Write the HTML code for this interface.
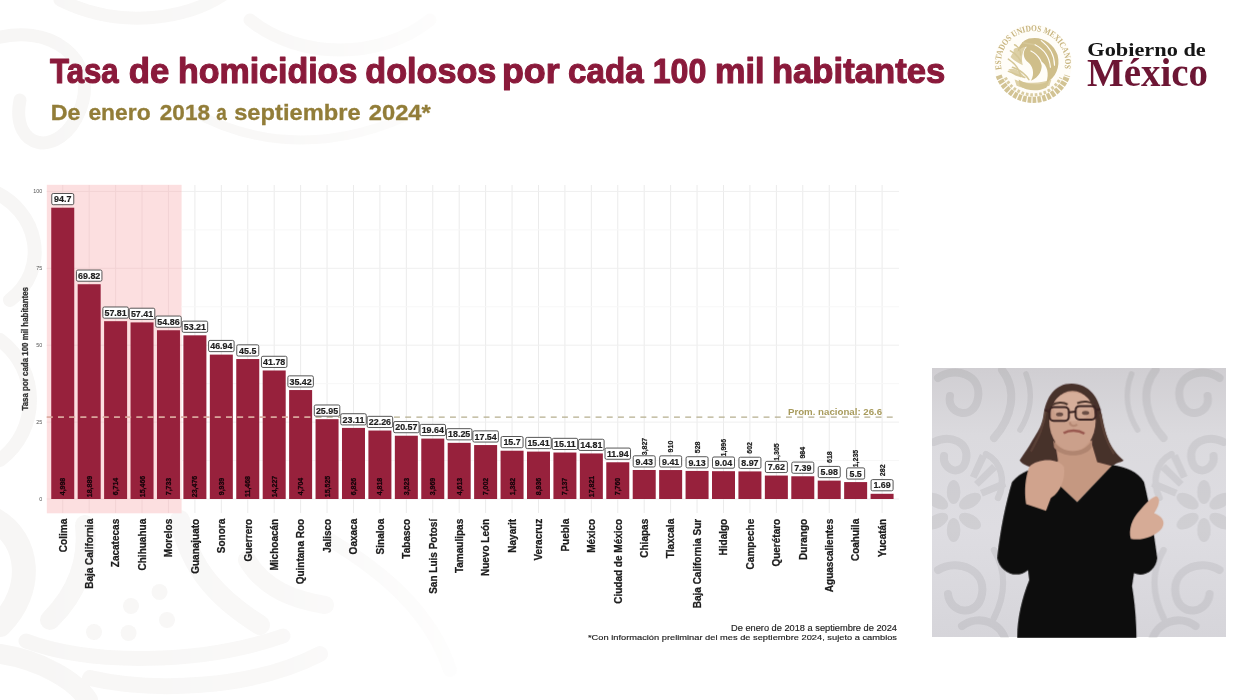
<!DOCTYPE html>
<html lang="es"><head><meta charset="utf-8"><title>Tasa de homicidios dolosos</title>
<style>
html,body{margin:0;padding:0;background:#fff;}
body{width:1246px;height:700px;overflow:hidden;position:relative;font-family:"Liberation Sans",sans-serif;}
svg{position:absolute;left:0;top:0;display:block}
text{font-family:"Liberation Sans",sans-serif}
.serif{font-family:"Liberation Serif",serif}
</style></head><body>
<svg width="1246" height="700" viewBox="0 0 1246 700">
<rect width="1246" height="700" fill="#ffffff"/>

<defs><linearGradient id="fadeg" x1="0" x2="1" y1="0" y2="0"><stop offset="0" stop-color="#fff" stop-opacity="1"/><stop offset="0.55" stop-color="#fff" stop-opacity="0.75"/><stop offset="1" stop-color="#fff" stop-opacity="0"/></linearGradient>
<mask id="fadem"><rect x="0" y="0" width="520" height="700" fill="url(#fadeg)"/></mask></defs>
<g id="bgpattern" mask="url(#fadem)" fill="none" stroke="#f7f6f5" stroke-width="18" stroke-linecap="round">
<path d="M-10 40 C 50 20, 100 60, 80 110 S 10 150, 20 100" stroke-width="13"/>
<path d="M60 0 C 120 30, 190 20, 230 -10" stroke-width="13"/>
<path d="M250 20 C 300 60, 380 60, 430 20" stroke-width="13"/>
<path d="M-10 190 C 40 210, 50 270, 10 300" stroke-width="14"/>
<path d="M0 340 C 40 370, 40 430, 0 460" stroke-width="14"/>
<path d="M190 110 C 260 150, 340 150, 420 110" stroke-width="9"/>
<path d="M-5 520 C 30 540, 35 590, 0 625" stroke-width="24"/>
<path d="M85 525 C 90 570, 70 600, 50 620" stroke-width="20"/>
<path d="M26 641 C 90 665, 200 665, 283 636" stroke-width="15"/>
<path d="M0 654 C 40 660, 75 680, 88 700" stroke-width="20"/>
<path d="M180 520 C 190 570, 220 600, 260 625" stroke-width="20"/>
<path d="M247 560 C 265 590, 295 600, 325 605" stroke-width="18"/>
<path d="M90 678 C 150 692, 250 690, 320 654" stroke-width="16"/>
<path d="M330 540 C 380 570, 430 610, 450 670" stroke-width="14"/>
<g fill="#f7f6f5" stroke="none"><circle cx="159.5" cy="592" r="8"/><circle cx="131" cy="606" r="8"/><circle cx="167" cy="620" r="8"/><circle cx="94" cy="632" r="8"/><circle cx="128.6" cy="633" r="8"/></g>
</g>
<text id="title" y="82.6" font-size="35" font-weight="700" fill="#8a1a3b" stroke="#8a1a3b" stroke-width="1.1" stroke-linejoin="round"><tspan x="49.90" textLength="68.85" lengthAdjust="spacingAndGlyphs">Tasa</tspan> <tspan x="128.70" textLength="40.53" lengthAdjust="spacingAndGlyphs">de</tspan> <tspan x="177.90" textLength="179.40" lengthAdjust="spacingAndGlyphs">homicidios</tspan> <tspan x="365.30" textLength="130.98" lengthAdjust="spacingAndGlyphs">dolosos</tspan> <tspan x="501.90" textLength="57.76" lengthAdjust="spacingAndGlyphs">por</tspan> <tspan x="568.10" textLength="75.60" lengthAdjust="spacingAndGlyphs">cada</tspan> <tspan x="652.70" textLength="53.57" lengthAdjust="spacingAndGlyphs">100</tspan> <tspan x="715.10" textLength="49.44" lengthAdjust="spacingAndGlyphs">mil</tspan> <tspan x="771.90" textLength="173.39" lengthAdjust="spacingAndGlyphs">habitantes</tspan></text>
<text id="subtitle" y="119.8" font-size="22.2" font-weight="700" fill="#927d38" stroke="#927d38" stroke-width="0.3"><tspan x="50.80" textLength="29.76" lengthAdjust="spacingAndGlyphs">De</tspan> <tspan x="88.40" textLength="62.19" lengthAdjust="spacingAndGlyphs">enero</tspan> <tspan x="159.80" textLength="50.16" lengthAdjust="spacingAndGlyphs">2018</tspan> <tspan x="216.20" textLength="10.53" lengthAdjust="spacingAndGlyphs">a</tspan> <tspan x="234.20" textLength="126.38" lengthAdjust="spacingAndGlyphs">septiembre</tspan> <tspan x="368.80" textLength="62.01" lengthAdjust="spacingAndGlyphs">2024*</tspan></text>
<rect x="46.8" y="184.8" width="134.8" height="328.5" fill="#fcdfe0"/>
<g stroke="#ebebeb" stroke-width="1">
<line x1="62.75" y1="185" x2="62.75" y2="513" stroke="#f2d3d4"/>
<line x1="89.18" y1="185" x2="89.18" y2="513" stroke="#f2d3d4"/>
<line x1="115.61" y1="185" x2="115.61" y2="513" stroke="#f2d3d4"/>
<line x1="142.04" y1="185" x2="142.04" y2="513" stroke="#f2d3d4"/>
<line x1="168.47" y1="185" x2="168.47" y2="513" stroke="#f2d3d4"/>
<line x1="194.90" y1="185" x2="194.90" y2="513"/>
<line x1="221.33" y1="185" x2="221.33" y2="513"/>
<line x1="247.76" y1="185" x2="247.76" y2="513"/>
<line x1="274.19" y1="185" x2="274.19" y2="513"/>
<line x1="300.62" y1="185" x2="300.62" y2="513"/>
<line x1="327.05" y1="185" x2="327.05" y2="513"/>
<line x1="353.48" y1="185" x2="353.48" y2="513"/>
<line x1="379.91" y1="185" x2="379.91" y2="513"/>
<line x1="406.34" y1="185" x2="406.34" y2="513"/>
<line x1="432.77" y1="185" x2="432.77" y2="513"/>
<line x1="459.20" y1="185" x2="459.20" y2="513"/>
<line x1="485.63" y1="185" x2="485.63" y2="513"/>
<line x1="512.06" y1="185" x2="512.06" y2="513"/>
<line x1="538.49" y1="185" x2="538.49" y2="513"/>
<line x1="564.92" y1="185" x2="564.92" y2="513"/>
<line x1="591.35" y1="185" x2="591.35" y2="513"/>
<line x1="617.78" y1="185" x2="617.78" y2="513"/>
<line x1="644.21" y1="185" x2="644.21" y2="513"/>
<line x1="670.64" y1="185" x2="670.64" y2="513"/>
<line x1="697.07" y1="185" x2="697.07" y2="513"/>
<line x1="723.50" y1="185" x2="723.50" y2="513"/>
<line x1="749.93" y1="185" x2="749.93" y2="513"/>
<line x1="776.36" y1="185" x2="776.36" y2="513"/>
<line x1="802.79" y1="185" x2="802.79" y2="513"/>
<line x1="829.22" y1="185" x2="829.22" y2="513"/>
<line x1="855.65" y1="185" x2="855.65" y2="513"/>
<line x1="882.08" y1="185" x2="882.08" y2="513"/>
<line x1="181.6" y1="499.00" x2="899" y2="499.00" stroke="#efefef"/>
<line x1="46.8" y1="499.00" x2="181.6" y2="499.00" stroke="#f2d3d4"/>
<line x1="181.6" y1="422.10" x2="899" y2="422.10" stroke="#efefef"/>
<line x1="46.8" y1="422.10" x2="181.6" y2="422.10" stroke="#f2d3d4"/>
<line x1="181.6" y1="345.20" x2="899" y2="345.20" stroke="#efefef"/>
<line x1="46.8" y1="345.20" x2="181.6" y2="345.20" stroke="#f2d3d4"/>
<line x1="181.6" y1="268.30" x2="899" y2="268.30" stroke="#efefef"/>
<line x1="46.8" y1="268.30" x2="181.6" y2="268.30" stroke="#f2d3d4"/>
<line x1="181.6" y1="191.40" x2="899" y2="191.40" stroke="#efefef"/>
<line x1="46.8" y1="191.40" x2="181.6" y2="191.40" stroke="#f2d3d4"/>
<line x1="181.6" y1="460.55" x2="899" y2="460.55" stroke="#f7f7f7"/>
<line x1="181.6" y1="383.65" x2="899" y2="383.65" stroke="#f7f7f7"/>
<line x1="181.6" y1="306.75" x2="899" y2="306.75" stroke="#f7f7f7"/>
<line x1="181.6" y1="229.85" x2="899" y2="229.85" stroke="#f7f7f7"/>
</g>
<g font-size="5.4" fill="#555" text-anchor="end">
<text x="42.3" y="500.90">0</text>
<text x="42.3" y="424.00">25</text>
<text x="42.3" y="347.10">50</text>
<text x="42.3" y="270.20">75</text>
<text x="42.3" y="193.30">100</text>
</g>
<text transform="translate(27.7,348.8) rotate(-90)" font-size="8.8" font-weight="700" fill="#333" stroke="#333" stroke-width="0.3" text-anchor="middle" textLength="123.5" lengthAdjust="spacingAndGlyphs">Tasa por cada 100 mil habitantes</text>
<g fill="#97213c">
<rect x="51.25" y="207.70" width="23.0" height="291.30"/>
<rect x="77.68" y="284.23" width="23.0" height="214.77"/>
<rect x="104.11" y="321.18" width="23.0" height="177.82"/>
<rect x="130.54" y="322.41" width="23.0" height="176.59"/>
<rect x="156.97" y="330.25" width="23.0" height="168.75"/>
<rect x="183.40" y="335.33" width="23.0" height="163.67"/>
<rect x="209.83" y="354.61" width="23.0" height="144.39"/>
<rect x="236.26" y="359.04" width="23.0" height="139.96"/>
<rect x="262.69" y="370.48" width="23.0" height="128.52"/>
<rect x="289.12" y="390.05" width="23.0" height="108.95"/>
<rect x="315.55" y="419.18" width="23.0" height="79.82"/>
<rect x="341.98" y="427.91" width="23.0" height="71.09"/>
<rect x="368.41" y="430.53" width="23.0" height="68.47"/>
<rect x="394.84" y="435.73" width="23.0" height="63.27"/>
<rect x="421.27" y="438.59" width="23.0" height="60.41"/>
<rect x="447.70" y="442.86" width="23.0" height="56.14"/>
<rect x="474.13" y="445.05" width="23.0" height="53.95"/>
<rect x="500.56" y="450.71" width="23.0" height="48.29"/>
<rect x="526.99" y="451.60" width="23.0" height="47.40"/>
<rect x="553.42" y="452.52" width="23.0" height="46.48"/>
<rect x="579.85" y="453.44" width="23.0" height="45.56"/>
<rect x="606.28" y="462.27" width="23.0" height="36.73"/>
<rect x="632.71" y="469.99" width="23.0" height="29.01"/>
<rect x="659.14" y="470.05" width="23.0" height="28.95"/>
<rect x="685.57" y="470.92" width="23.0" height="28.08"/>
<rect x="712.00" y="471.19" width="23.0" height="27.81"/>
<rect x="738.43" y="471.41" width="23.0" height="27.59"/>
<rect x="764.86" y="475.56" width="23.0" height="23.44"/>
<rect x="791.29" y="476.27" width="23.0" height="22.73"/>
<rect x="817.72" y="480.61" width="23.0" height="18.39"/>
<rect x="844.15" y="482.08" width="23.0" height="16.92"/>
<rect x="870.58" y="493.80" width="23.0" height="5.20"/>
</g>
<line x1="46.8" y1="417.18" x2="898" y2="417.18" stroke="#b5ae8e" stroke-width="1.3" stroke-dasharray="5.9 5.3"/>
<line x1="46.8" y1="417.18" x2="315" y2="417.18" stroke="#e9a9a6" stroke-width="1.3" stroke-dasharray="5.9 5.3"/>
<text x="882.2" y="414.6" font-size="9.7" font-weight="700" fill="#a89b5c" text-anchor="end">Prom. nacional: 26.6</text>
<rect x="51.75" y="193.50" width="22" height="11.2" rx="1.5" fill="#fff" stroke="#444" stroke-width="0.9"/>
<text x="62.75" y="202.30" font-size="8.9" font-weight="700" fill="#1e1e1e" stroke="#1e1e1e" stroke-width="0.2" text-anchor="middle">94.7</text>
<text transform="translate(65.25,486.5) rotate(-90)" font-size="7" font-weight="700" fill="#16040a" stroke="#16040a" stroke-width="0.25" text-anchor="middle">4,998</text>
<rect x="76.43" y="270.03" width="25.5" height="11.2" rx="1.5" fill="#fff" stroke="#444" stroke-width="0.9"/>
<text x="89.18" y="278.83" font-size="8.9" font-weight="700" fill="#1e1e1e" stroke="#1e1e1e" stroke-width="0.2" text-anchor="middle">69.82</text>
<text transform="translate(91.68,486.5) rotate(-90)" font-size="7" font-weight="700" fill="#16040a" stroke="#16040a" stroke-width="0.25" text-anchor="middle">18,889</text>
<rect x="102.86" y="306.98" width="25.5" height="11.2" rx="1.5" fill="#fff" stroke="#444" stroke-width="0.9"/>
<text x="115.61" y="315.78" font-size="8.9" font-weight="700" fill="#1e1e1e" stroke="#1e1e1e" stroke-width="0.2" text-anchor="middle">57.81</text>
<text transform="translate(118.11,486.5) rotate(-90)" font-size="7" font-weight="700" fill="#16040a" stroke="#16040a" stroke-width="0.25" text-anchor="middle">6,714</text>
<rect x="129.29" y="308.21" width="25.5" height="11.2" rx="1.5" fill="#fff" stroke="#444" stroke-width="0.9"/>
<text x="142.04" y="317.01" font-size="8.9" font-weight="700" fill="#1e1e1e" stroke="#1e1e1e" stroke-width="0.2" text-anchor="middle">57.41</text>
<text transform="translate(144.54,486.5) rotate(-90)" font-size="7" font-weight="700" fill="#16040a" stroke="#16040a" stroke-width="0.25" text-anchor="middle">15,466</text>
<rect x="155.72" y="316.05" width="25.5" height="11.2" rx="1.5" fill="#fff" stroke="#444" stroke-width="0.9"/>
<text x="168.47" y="324.85" font-size="8.9" font-weight="700" fill="#1e1e1e" stroke="#1e1e1e" stroke-width="0.2" text-anchor="middle">54.86</text>
<text transform="translate(170.97,486.5) rotate(-90)" font-size="7" font-weight="700" fill="#16040a" stroke="#16040a" stroke-width="0.25" text-anchor="middle">7,733</text>
<rect x="182.15" y="321.13" width="25.5" height="11.2" rx="1.5" fill="#fff" stroke="#444" stroke-width="0.9"/>
<text x="194.90" y="329.93" font-size="8.9" font-weight="700" fill="#1e1e1e" stroke="#1e1e1e" stroke-width="0.2" text-anchor="middle">53.21</text>
<text transform="translate(197.40,486.5) rotate(-90)" font-size="7" font-weight="700" fill="#16040a" stroke="#16040a" stroke-width="0.25" text-anchor="middle">23,476</text>
<rect x="208.58" y="340.41" width="25.5" height="11.2" rx="1.5" fill="#fff" stroke="#444" stroke-width="0.9"/>
<text x="221.33" y="349.21" font-size="8.9" font-weight="700" fill="#1e1e1e" stroke="#1e1e1e" stroke-width="0.2" text-anchor="middle">46.94</text>
<text transform="translate(223.83,486.5) rotate(-90)" font-size="7" font-weight="700" fill="#16040a" stroke="#16040a" stroke-width="0.25" text-anchor="middle">9,939</text>
<rect x="236.76" y="344.84" width="22" height="11.2" rx="1.5" fill="#fff" stroke="#444" stroke-width="0.9"/>
<text x="247.76" y="353.64" font-size="8.9" font-weight="700" fill="#1e1e1e" stroke="#1e1e1e" stroke-width="0.2" text-anchor="middle">45.5</text>
<text transform="translate(250.26,486.5) rotate(-90)" font-size="7" font-weight="700" fill="#16040a" stroke="#16040a" stroke-width="0.25" text-anchor="middle">11,468</text>
<rect x="261.44" y="356.28" width="25.5" height="11.2" rx="1.5" fill="#fff" stroke="#444" stroke-width="0.9"/>
<text x="274.19" y="365.08" font-size="8.9" font-weight="700" fill="#1e1e1e" stroke="#1e1e1e" stroke-width="0.2" text-anchor="middle">41.78</text>
<text transform="translate(276.69,486.5) rotate(-90)" font-size="7" font-weight="700" fill="#16040a" stroke="#16040a" stroke-width="0.25" text-anchor="middle">14,227</text>
<rect x="287.87" y="375.85" width="25.5" height="11.2" rx="1.5" fill="#fff" stroke="#444" stroke-width="0.9"/>
<text x="300.62" y="384.65" font-size="8.9" font-weight="700" fill="#1e1e1e" stroke="#1e1e1e" stroke-width="0.2" text-anchor="middle">35.42</text>
<text transform="translate(303.12,486.5) rotate(-90)" font-size="7" font-weight="700" fill="#16040a" stroke="#16040a" stroke-width="0.25" text-anchor="middle">4,704</text>
<rect x="314.30" y="404.98" width="25.5" height="11.2" rx="1.5" fill="#fff" stroke="#444" stroke-width="0.9"/>
<text x="327.05" y="413.78" font-size="8.9" font-weight="700" fill="#1e1e1e" stroke="#1e1e1e" stroke-width="0.2" text-anchor="middle">25.95</text>
<text transform="translate(329.55,486.5) rotate(-90)" font-size="7" font-weight="700" fill="#16040a" stroke="#16040a" stroke-width="0.25" text-anchor="middle">15,525</text>
<rect x="340.73" y="413.71" width="25.5" height="11.2" rx="1.5" fill="#fff" stroke="#444" stroke-width="0.9"/>
<text x="353.48" y="422.51" font-size="8.9" font-weight="700" fill="#1e1e1e" stroke="#1e1e1e" stroke-width="0.2" text-anchor="middle">23.11</text>
<text transform="translate(355.98,486.5) rotate(-90)" font-size="7" font-weight="700" fill="#16040a" stroke="#16040a" stroke-width="0.25" text-anchor="middle">6,826</text>
<rect x="367.16" y="416.33" width="25.5" height="11.2" rx="1.5" fill="#fff" stroke="#444" stroke-width="0.9"/>
<text x="379.91" y="425.13" font-size="8.9" font-weight="700" fill="#1e1e1e" stroke="#1e1e1e" stroke-width="0.2" text-anchor="middle">22.26</text>
<text transform="translate(382.41,486.5) rotate(-90)" font-size="7" font-weight="700" fill="#16040a" stroke="#16040a" stroke-width="0.25" text-anchor="middle">4,818</text>
<rect x="393.59" y="421.53" width="25.5" height="11.2" rx="1.5" fill="#fff" stroke="#444" stroke-width="0.9"/>
<text x="406.34" y="430.33" font-size="8.9" font-weight="700" fill="#1e1e1e" stroke="#1e1e1e" stroke-width="0.2" text-anchor="middle">20.57</text>
<text transform="translate(408.84,486.5) rotate(-90)" font-size="7" font-weight="700" fill="#16040a" stroke="#16040a" stroke-width="0.25" text-anchor="middle">3,523</text>
<rect x="420.02" y="424.39" width="25.5" height="11.2" rx="1.5" fill="#fff" stroke="#444" stroke-width="0.9"/>
<text x="432.77" y="433.19" font-size="8.9" font-weight="700" fill="#1e1e1e" stroke="#1e1e1e" stroke-width="0.2" text-anchor="middle">19.64</text>
<text transform="translate(435.27,486.5) rotate(-90)" font-size="7" font-weight="700" fill="#16040a" stroke="#16040a" stroke-width="0.25" text-anchor="middle">3,969</text>
<rect x="446.45" y="428.66" width="25.5" height="11.2" rx="1.5" fill="#fff" stroke="#444" stroke-width="0.9"/>
<text x="459.20" y="437.46" font-size="8.9" font-weight="700" fill="#1e1e1e" stroke="#1e1e1e" stroke-width="0.2" text-anchor="middle">18.25</text>
<text transform="translate(461.70,486.5) rotate(-90)" font-size="7" font-weight="700" fill="#16040a" stroke="#16040a" stroke-width="0.25" text-anchor="middle">4,613</text>
<rect x="472.88" y="430.85" width="25.5" height="11.2" rx="1.5" fill="#fff" stroke="#444" stroke-width="0.9"/>
<text x="485.63" y="439.65" font-size="8.9" font-weight="700" fill="#1e1e1e" stroke="#1e1e1e" stroke-width="0.2" text-anchor="middle">17.54</text>
<text transform="translate(488.13,486.5) rotate(-90)" font-size="7" font-weight="700" fill="#16040a" stroke="#16040a" stroke-width="0.25" text-anchor="middle">7,002</text>
<rect x="501.06" y="436.51" width="22" height="11.2" rx="1.5" fill="#fff" stroke="#444" stroke-width="0.9"/>
<text x="512.06" y="445.31" font-size="8.9" font-weight="700" fill="#1e1e1e" stroke="#1e1e1e" stroke-width="0.2" text-anchor="middle">15.7</text>
<text transform="translate(514.56,486.5) rotate(-90)" font-size="7" font-weight="700" fill="#16040a" stroke="#16040a" stroke-width="0.25" text-anchor="middle">1,382</text>
<rect x="525.74" y="437.40" width="25.5" height="11.2" rx="1.5" fill="#fff" stroke="#444" stroke-width="0.9"/>
<text x="538.49" y="446.20" font-size="8.9" font-weight="700" fill="#1e1e1e" stroke="#1e1e1e" stroke-width="0.2" text-anchor="middle">15.41</text>
<text transform="translate(540.99,486.5) rotate(-90)" font-size="7" font-weight="700" fill="#16040a" stroke="#16040a" stroke-width="0.25" text-anchor="middle">8,936</text>
<rect x="552.17" y="438.32" width="25.5" height="11.2" rx="1.5" fill="#fff" stroke="#444" stroke-width="0.9"/>
<text x="564.92" y="447.12" font-size="8.9" font-weight="700" fill="#1e1e1e" stroke="#1e1e1e" stroke-width="0.2" text-anchor="middle">15.11</text>
<text transform="translate(567.42,486.5) rotate(-90)" font-size="7" font-weight="700" fill="#16040a" stroke="#16040a" stroke-width="0.25" text-anchor="middle">7,137</text>
<rect x="578.60" y="439.24" width="25.5" height="11.2" rx="1.5" fill="#fff" stroke="#444" stroke-width="0.9"/>
<text x="591.35" y="448.04" font-size="8.9" font-weight="700" fill="#1e1e1e" stroke="#1e1e1e" stroke-width="0.2" text-anchor="middle">14.81</text>
<text transform="translate(593.85,486.5) rotate(-90)" font-size="7" font-weight="700" fill="#16040a" stroke="#16040a" stroke-width="0.25" text-anchor="middle">17,821</text>
<rect x="605.03" y="448.07" width="25.5" height="11.2" rx="1.5" fill="#fff" stroke="#444" stroke-width="0.9"/>
<text x="617.78" y="456.87" font-size="8.9" font-weight="700" fill="#1e1e1e" stroke="#1e1e1e" stroke-width="0.2" text-anchor="middle">11.94</text>
<text transform="translate(620.28,486.5) rotate(-90)" font-size="7" font-weight="700" fill="#16040a" stroke="#16040a" stroke-width="0.25" text-anchor="middle">7,760</text>
<rect x="633.21" y="455.79" width="22" height="11.2" rx="1.5" fill="#fff" stroke="#444" stroke-width="0.9"/>
<text x="644.21" y="464.59" font-size="8.9" font-weight="700" fill="#1e1e1e" stroke="#1e1e1e" stroke-width="0.2" text-anchor="middle">9.43</text>
<text transform="translate(646.71,446.49) rotate(-90)" font-size="7" font-weight="700" fill="#1a1a1a" stroke="#1a1a1a" stroke-width="0.2" text-anchor="middle">3,827</text>
<rect x="659.64" y="455.85" width="22" height="11.2" rx="1.5" fill="#fff" stroke="#444" stroke-width="0.9"/>
<text x="670.64" y="464.65" font-size="8.9" font-weight="700" fill="#1e1e1e" stroke="#1e1e1e" stroke-width="0.2" text-anchor="middle">9.41</text>
<text transform="translate(673.14,446.55) rotate(-90)" font-size="7" font-weight="700" fill="#1a1a1a" stroke="#1a1a1a" stroke-width="0.2" text-anchor="middle">910</text>
<rect x="686.07" y="456.72" width="22" height="11.2" rx="1.5" fill="#fff" stroke="#444" stroke-width="0.9"/>
<text x="697.07" y="465.52" font-size="8.9" font-weight="700" fill="#1e1e1e" stroke="#1e1e1e" stroke-width="0.2" text-anchor="middle">9.13</text>
<text transform="translate(699.57,447.42) rotate(-90)" font-size="7" font-weight="700" fill="#1a1a1a" stroke="#1a1a1a" stroke-width="0.2" text-anchor="middle">528</text>
<rect x="712.50" y="456.99" width="22" height="11.2" rx="1.5" fill="#fff" stroke="#444" stroke-width="0.9"/>
<text x="723.50" y="465.79" font-size="8.9" font-weight="700" fill="#1e1e1e" stroke="#1e1e1e" stroke-width="0.2" text-anchor="middle">9.04</text>
<text transform="translate(726.00,447.69) rotate(-90)" font-size="7" font-weight="700" fill="#1a1a1a" stroke="#1a1a1a" stroke-width="0.2" text-anchor="middle">1,996</text>
<rect x="738.93" y="457.21" width="22" height="11.2" rx="1.5" fill="#fff" stroke="#444" stroke-width="0.9"/>
<text x="749.93" y="466.01" font-size="8.9" font-weight="700" fill="#1e1e1e" stroke="#1e1e1e" stroke-width="0.2" text-anchor="middle">8.97</text>
<text transform="translate(752.43,447.91) rotate(-90)" font-size="7" font-weight="700" fill="#1a1a1a" stroke="#1a1a1a" stroke-width="0.2" text-anchor="middle">602</text>
<rect x="765.36" y="461.36" width="22" height="11.2" rx="1.5" fill="#fff" stroke="#444" stroke-width="0.9"/>
<text x="776.36" y="470.16" font-size="8.9" font-weight="700" fill="#1e1e1e" stroke="#1e1e1e" stroke-width="0.2" text-anchor="middle">7.62</text>
<text transform="translate(778.86,452.06) rotate(-90)" font-size="7" font-weight="700" fill="#1a1a1a" stroke="#1a1a1a" stroke-width="0.2" text-anchor="middle">1,305</text>
<rect x="791.79" y="462.07" width="22" height="11.2" rx="1.5" fill="#fff" stroke="#444" stroke-width="0.9"/>
<text x="802.79" y="470.87" font-size="8.9" font-weight="700" fill="#1e1e1e" stroke="#1e1e1e" stroke-width="0.2" text-anchor="middle">7.39</text>
<text transform="translate(805.29,452.77) rotate(-90)" font-size="7" font-weight="700" fill="#1a1a1a" stroke="#1a1a1a" stroke-width="0.2" text-anchor="middle">984</text>
<rect x="818.22" y="466.41" width="22" height="11.2" rx="1.5" fill="#fff" stroke="#444" stroke-width="0.9"/>
<text x="829.22" y="475.21" font-size="8.9" font-weight="700" fill="#1e1e1e" stroke="#1e1e1e" stroke-width="0.2" text-anchor="middle">5.98</text>
<text transform="translate(831.72,457.11) rotate(-90)" font-size="7" font-weight="700" fill="#1a1a1a" stroke="#1a1a1a" stroke-width="0.2" text-anchor="middle">618</text>
<rect x="846.65" y="467.88" width="18" height="11.2" rx="1.5" fill="#fff" stroke="#444" stroke-width="0.9"/>
<text x="855.65" y="476.68" font-size="8.9" font-weight="700" fill="#1e1e1e" stroke="#1e1e1e" stroke-width="0.2" text-anchor="middle">5.5</text>
<text transform="translate(858.15,458.58) rotate(-90)" font-size="7" font-weight="700" fill="#1a1a1a" stroke="#1a1a1a" stroke-width="0.2" text-anchor="middle">1,235</text>
<rect x="871.08" y="479.60" width="22" height="11.2" rx="1.5" fill="#fff" stroke="#444" stroke-width="0.9"/>
<text x="882.08" y="488.40" font-size="8.9" font-weight="700" fill="#1e1e1e" stroke="#1e1e1e" stroke-width="0.2" text-anchor="middle">1.69</text>
<text transform="translate(884.58,470.30) rotate(-90)" font-size="7" font-weight="700" fill="#1a1a1a" stroke="#1a1a1a" stroke-width="0.2" text-anchor="middle">282</text>
<g font-size="10" font-weight="700" fill="#1c1c1c" stroke="#1c1c1c" stroke-width="0.25" text-anchor="end">
<text transform="translate(66.55,518.8) rotate(-90)">Colima</text>
<text transform="translate(92.98,518.8) rotate(-90)">Baja California</text>
<text transform="translate(119.41,518.8) rotate(-90)">Zacatecas</text>
<text transform="translate(145.84,518.8) rotate(-90)">Chihuahua</text>
<text transform="translate(172.27,518.8) rotate(-90)">Morelos</text>
<text transform="translate(198.70,518.8) rotate(-90)">Guanajuato</text>
<text transform="translate(225.13,518.8) rotate(-90)">Sonora</text>
<text transform="translate(251.56,518.8) rotate(-90)">Guerrero</text>
<text transform="translate(277.99,518.8) rotate(-90)">Michoacán</text>
<text transform="translate(304.42,518.8) rotate(-90)">Quintana Roo</text>
<text transform="translate(330.85,518.8) rotate(-90)">Jalisco</text>
<text transform="translate(357.28,518.8) rotate(-90)">Oaxaca</text>
<text transform="translate(383.71,518.8) rotate(-90)">Sinaloa</text>
<text transform="translate(410.14,518.8) rotate(-90)">Tabasco</text>
<text transform="translate(436.57,518.8) rotate(-90)">San Luis Potosí</text>
<text transform="translate(463.00,518.8) rotate(-90)">Tamaulipas</text>
<text transform="translate(489.43,518.8) rotate(-90)">Nuevo León</text>
<text transform="translate(515.86,518.8) rotate(-90)">Nayarit</text>
<text transform="translate(542.29,518.8) rotate(-90)">Veracruz</text>
<text transform="translate(568.72,518.8) rotate(-90)">Puebla</text>
<text transform="translate(595.15,518.8) rotate(-90)">México</text>
<text transform="translate(621.58,518.8) rotate(-90)">Ciudad de México</text>
<text transform="translate(648.01,518.8) rotate(-90)">Chiapas</text>
<text transform="translate(674.44,518.8) rotate(-90)">Tlaxcala</text>
<text transform="translate(700.87,518.8) rotate(-90)">Baja California Sur</text>
<text transform="translate(727.30,518.8) rotate(-90)">Hidalgo</text>
<text transform="translate(753.73,518.8) rotate(-90)">Campeche</text>
<text transform="translate(780.16,518.8) rotate(-90)">Querétaro</text>
<text transform="translate(806.59,518.8) rotate(-90)">Durango</text>
<text transform="translate(833.02,518.8) rotate(-90)">Aguascalientes</text>
<text transform="translate(859.45,518.8) rotate(-90)">Coahuila</text>
<text transform="translate(885.88,518.8) rotate(-90)">Yucatán</text>
</g>
<text x="897" y="631.2" font-size="8.5" fill="#1c1c1c" stroke="#1c1c1c" stroke-width="0.15" text-anchor="end" textLength="166" lengthAdjust="spacingAndGlyphs">De enero de 2018 a septiembre de 2024</text>
<text x="897" y="640" font-size="8" fill="#1c1c1c" stroke="#1c1c1c" stroke-width="0.15" text-anchor="end" textLength="309" lengthAdjust="spacingAndGlyphs">*Con información preliminar del mes de septiembre 2024, sujeto a cambios</text>
<g id="logo">
<g transform="translate(1033,63.2) scale(1.025)">
<circle r="38" fill="#fffdf8"/>
<path id="sealarc" d="M-30.72 5.97 A 31.3 31.3 0 1 1 30.72 5.97" fill="none"/>
<text class="serif" font-size="8.6" font-weight="700" fill="#c7b47e" textLength="109.4" lengthAdjust="spacingAndGlyphs"><textPath href="#sealarc" startOffset="0">ESTADOS UNIDOS MEXICANOS</textPath></text>
<!-- wreath -->
<path d="M-33.5 12 A 35.5 35.5 0 0 0 33.5 12" fill="none" stroke="#d2c394" stroke-width="6" stroke-dasharray="3.6 1.2"/>
<path d="M-27 14 A 30 30 0 0 0 27 14" fill="none" stroke="#d9cca2" stroke-width="3" stroke-dasharray="2.6 1.8"/>
<!-- eagle -->
<g fill="#ddd0a6">
<path d="M-22 -6 C -18 -14, -12 -18, -6 -18 C -10 -12, -12 -6, -10 2 C -14 0, -18 -2, -22 -6 Z"/>
<path d="M-24 6 C -18 4, -12 8, -8 14 C -14 14, -20 12, -24 6 Z"/>
<path d="M-18 16 C -8 20, 8 20, 18 16 L 16 22 C 6 26, -8 26, -16 22 Z"/>
<ellipse cx="-15" cy="-12" rx="4" ry="3"/>
</g>

<g fill="#cfbe8a">
<path d="M-4 -24 C 8 -27, 20 -20, 24 -8 C 27 4, 22 14, 13 19 C 16 10, 14 2, 8 -2 C 10 6, 6 14, -2 17 C 2 10, 0 2, -6 -2 C -10 -6, -10 -12, -6 -16 C -10 -16, -13 -14, -15 -11 C -14 -17, -10 -22, -4 -24 Z"/>
<path d="M-14 16 C -6 22, 8 22, 16 17 L 13 24 C 5 28, -7 27, -13 22 Z" fill="#d3c492"/>
</g>
<g fill="none" stroke="#d5c797" stroke-width="1.5" stroke-linecap="round">
<path d="M-24 -4 C -18 0, -13 6, -12 13"/><path d="M-20 4 C -14 6, -8 10, -4 16"/><path d="M-22 -12 C -18 -10, -14 -6, -12 -2"/>
<path d="M-18 -18 C -14 -16, -12 -12, -12 -8"/><path d="M-24 8 L -8 14"/><path d="M-10 -20 L 2 -18"/>
</g>
<g fill="none" stroke="#fffdf8" stroke-width="1.1" stroke-linecap="round">
<path d="M2 -18 C 10 -14, 16 -6, 17 4"/><path d="M-2 -12 C 6 -8, 10 0, 10 8"/><path d="M8 -22 C 16 -16, 21 -8, 21 2"/>
</g>
</g>
<text class="serif" x="1087.3" y="56.3" font-size="19.7" font-weight="700" fill="#161616" textLength="118.5" lengthAdjust="spacingAndGlyphs">Gobierno de</text>
<text class="serif" x="1087" y="86" font-size="39.5" font-weight="700" fill="#6d1634" textLength="121" lengthAdjust="spacingAndGlyphs">México</text>
</g>

<g id="video">
<defs>
<linearGradient id="vbg" x1="0" y1="0" x2="0" y2="1"><stop offset="0" stop-color="#d0ced2"/><stop offset="0.25" stop-color="#dbdade"/><stop offset="0.6" stop-color="#dedde2"/><stop offset="1" stop-color="#d6d5da"/></linearGradient>
<filter id="vblur" x="-5%" y="-5%" width="110%" height="110%"><feGaussianBlur stdDeviation="1.6"/></filter>
<clipPath id="vclip"><rect x="15" y="15" width="735" height="673"/></clipPath>
</defs>
<rect x="932" y="368" width="294" height="269" fill="url(#vbg)"/>
<g transform="translate(926,362) scale(0.4)">
<g clip-path="url(#vclip)"><g filter="url(#vblur)">
<!-- wallpaper swirls -->
<g opacity="0.065"><g><g fill="none" stroke="#000" stroke-width="20" stroke-linecap="round">
<path d="M30 40 C 70 10, 140 30, 130 90 S 50 130, 60 85"/>
<path d="M190 20 C 230 70, 215 140, 170 190"/>
<path d="M250 30 C 270 80, 260 130, 235 170" stroke-width="14"/>
<path d="M20 200 C 60 180, 110 200, 100 245 S 40 270, 45 235"/>
<path d="M150 230 C 190 250, 200 300, 180 340" stroke-width="16"/>
<path d="M30 520 C 80 490, 150 520, 140 580 S 60 630, 55 580"/>
<path d="M170 470 C 200 520, 200 580, 170 640" stroke-width="16"/>
<path d="M90 660 C 130 630, 190 650, 200 700"/>
</g>
<g fill="#000">
<ellipse cx="69" cy="325" rx="17" ry="30"/><ellipse cx="69" cy="420" rx="17" ry="30"/>
<ellipse cx="28" cy="348" rx="30" ry="17" transform="rotate(30 28 348)"/><ellipse cx="110" cy="348" rx="30" ry="17" transform="rotate(-30 110 348)"/>
<ellipse cx="28" cy="398" rx="30" ry="17" transform="rotate(-30 28 398)"/><ellipse cx="110" cy="398" rx="30" ry="17" transform="rotate(30 110 398)"/>

<path d="M120 300 L 165 255 L 178 268 L 132 312 Z"/><path d="M135 320 L 195 295 L 201 312 L 142 336 Z"/><path d="M110 285 L 135 230 L 152 238 L 126 292 Z"/>
</g>
</g>
<g transform="translate(764,0) scale(-1,1)"><g fill="none" stroke="#000" stroke-width="20" stroke-linecap="round">
<path d="M30 40 C 70 10, 140 30, 130 90 S 50 130, 60 85"/>
<path d="M190 20 C 230 70, 215 140, 170 190"/>
<path d="M250 30 C 270 80, 260 130, 235 170" stroke-width="14"/>
<path d="M20 200 C 60 180, 110 200, 100 245 S 40 270, 45 235"/>
<path d="M150 230 C 190 250, 200 300, 180 340" stroke-width="16"/>
<path d="M30 520 C 80 490, 150 520, 140 580 S 60 630, 55 580"/>
<path d="M170 470 C 200 520, 200 580, 170 640" stroke-width="16"/>
<path d="M90 660 C 130 630, 190 650, 200 700"/>
</g>
<g fill="#000">
<ellipse cx="69" cy="325" rx="17" ry="30"/><ellipse cx="69" cy="420" rx="17" ry="30"/>
<ellipse cx="28" cy="348" rx="30" ry="17" transform="rotate(30 28 348)"/><ellipse cx="110" cy="348" rx="30" ry="17" transform="rotate(-30 110 348)"/>
<ellipse cx="28" cy="398" rx="30" ry="17" transform="rotate(-30 28 398)"/><ellipse cx="110" cy="398" rx="30" ry="17" transform="rotate(30 110 398)"/>

<path d="M120 300 L 165 255 L 178 268 L 132 312 Z"/><path d="M135 320 L 195 295 L 201 312 L 142 336 Z"/><path d="M110 285 L 135 230 L 152 238 L 126 292 Z"/>
</g>
</g></g>
<!-- hair -->
<path d="M364 54 C 322 54, 300 88, 294 132 C 290 160, 278 176, 266 196 C 256 214, 246 228, 234 246 C 244 262, 262 258, 272 270 C 292 268, 312 258, 330 250 L 420 250 C 440 258, 456 262, 470 258 C 478 250, 488 252, 494 246 C 478 232, 468 220, 458 200 C 450 182, 446 164, 440 136 C 434 90, 408 54, 364 54 Z" fill="#47302a"/>
<path d="M300 120 C 296 160, 280 190, 262 224" stroke="#5a4036" stroke-width="6" fill="none"/>
<path d="M436 130 C 440 170, 452 200, 470 230" stroke="#5a4036" stroke-width="6" fill="none"/>
<!-- neck + chest -->
<path d="M322 196 L 412 196 L 428 250 L 466 260 L 378 350 L 322 300 L 300 262 L 330 248 Z" fill="#c59881"/>
<!-- face -->
<ellipse cx="366" cy="148" rx="58" ry="76" fill="#cba08b"/>
<ellipse cx="366" cy="112" rx="48" ry="36" fill="#d6ae9a"/>
<path d="M318 196 C 340 232, 396 232, 416 194 L 414 214 C 396 240, 340 240, 320 214 Z" fill="#b08570"/>
<ellipse cx="334" cy="131" rx="9" ry="5" fill="#3b2622"/><ellipse cx="399" cy="127" rx="9" ry="5" fill="#3b2622"/>
<path d="M314 108 C 326 100, 344 100, 354 106" stroke="#4a342c" stroke-width="5" fill="none"/><path d="M378 103 C 392 96, 410 98, 420 106" stroke="#4a342c" stroke-width="5" fill="none"/>
<path d="M360 150 C 358 160, 372 162, 378 156" stroke="#b58873" stroke-width="5" fill="none"/>
<!-- glasses -->
<g fill="#c79c88" fill-opacity="0.35" stroke="#3a2422" stroke-width="5"><rect x="309" y="113" width="48" height="34" rx="10"/><rect x="374" y="110" width="50" height="34" rx="10"/><path d="M357 126 L374 124" fill="none"/><path d="M309 124 L296 120" fill="none"/><path d="M424 120 L436 118" fill="none"/></g>
<path d="M344 178 C 358 169, 380 169, 396 179" stroke="#99584f" stroke-width="6" fill="none"/>
<!-- body -->
<path d="M322 298 L 378 350 L 466 258 C 500 262, 530 275, 545 300 C 560 360, 570 430, 578 490 C 575 520, 545 540, 520 528 L 515 560 C 522 600, 526 650, 526 690 L 228 690 C 228 640, 240 590, 258 545 L 255 520 C 225 545, 185 525, 178 490 C 185 420, 200 350, 215 300 C 235 275, 270 262, 300 262 Z" fill="#0c0c0c"/>
<!-- hands -->
<path d="M258 262 C 280 240, 330 240, 345 262 C 350 300, 330 330, 312 340 L 300 372 L 250 355 C 245 320, 248 290, 258 262 Z" fill="#d0a38d"/>
<path d="M575 335 C 590 340, 580 365, 570 378 C 590 385, 600 400, 590 415 C 575 435, 540 448, 512 442 C 505 420, 515 390, 535 370 C 548 355, 560 340, 575 335 Z" fill="#d6ab96"/>
</g></g>
</g>
</g>

</svg></body></html>
